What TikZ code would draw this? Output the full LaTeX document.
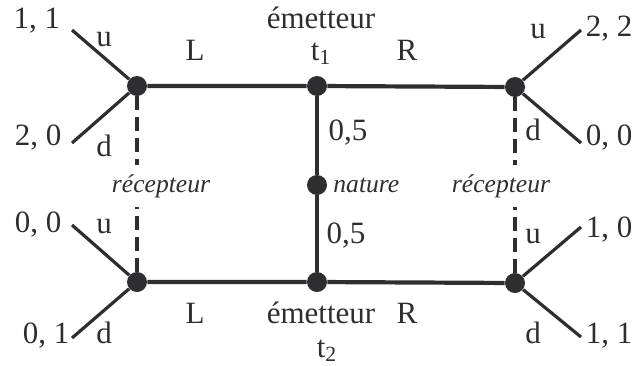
\documentclass[tikz,border=0pt]{standalone}
\usepackage{fontspec}
\setmainfont{Liberation Serif}
\usetikzlibrary{positioning}
\definecolor{GameInk}{HTML}{2E2E30}
\tikzset{
  gamedot/.style={
    circle,
    fill=GameInk,
    inner sep=0pt,
    minimum size=10pt
  },
  gamemove/.style={draw=GameInk,line width=2.1pt},
  gamebranch/.style={draw=GameInk,line width=1.6pt},
  gameinfo/.style={draw=GameInk,line width=1.6pt,dash pattern=on 7pt off 3.5pt},
  gametext/.style={
    text=GameInk,
    anchor=base,
    inner sep=0pt,
    font=\fontsize{15.5}{18}\selectfont
  },
  gameplayer/.style={
    text=GameInk,
    anchor=base,
    inner xsep=0pt,
    inner ysep=4.6pt,
    font=\fontsize{12.8}{15}\selectfont\itshape
  }
}

\begin{document}
\begin{tikzpicture}[x=0.5pt,y=-0.5pt]
  \useasboundingbox (0,0) rectangle (633,365);
  % decision nodes
  \node[gamedot] (recTL) at (137,86) {};
  \node[gamedot] (emT) at (317,86) {};
  \node[gamedot] (recTR) at (515,87) {};
  \node[gamedot] (nat) at (317,185) {};
  \node[gamedot] (recBL) at (137,282) {};
  \node[gamedot] (emB) at (317,282) {};
  \node[gamedot] (recBR) at (515,283) {};
  % ends of the receiver moves
  \coordinate (endTLu) at (72,30);
  \coordinate (endTLd) at (72,143);
  \coordinate (endTRu) at (581,30);
  \coordinate (endTRd) at (581,143);
  \coordinate (endBLu) at (72,225);
  \coordinate (endBLd) at (72,338);
  \coordinate (endBRu) at (581,227);
  \coordinate (endBRd) at (581,337);
  % payoffs
  \node[gametext] (payTLu) at (37,28) {1, 1};
  \node[gametext] (payTLd) at (38,145) {2, 0};
  \node[gametext] (payTRu) at (609,36) {2, 2};
  \node[gametext] (payTRd) at (609,145) {0, 0};
  \node[gametext] (payBLu) at (38,232) {0, 0};
  \node[gametext] (payBLd) at (46,343) {0, 1};
  \node[gametext] (payBRu) at (609,237) {1, 0};
  \node[gametext] (payBRd) at (609,343) {1, 1};
  % move labels
  \node[gametext] (uTL) at (104,46) {u};
  \node[gametext] (dTL) at (104,156) {d};
  \node[gametext] (uTR) at (538,38) {u};
  \node[gametext] (dTR) at (533,140) {d};
  \node[gametext] (uBL) at (104,233) {u};
  \node[gametext] (dBL) at (104,343) {d};
  \node[gametext] (uBR) at (533,243) {u};
  \node[gametext] (dBR) at (533,343) {d};
  \node[gametext] (msgTL) at (195,60) {L};
  \node[gametext] (msgTR) at (407,60) {R};
  \node[gametext] (msgBL) at (195,323) {L};
  \node[gametext] (msgBR) at (407,323) {R};
  \node[gametext] (probT) at (348,140) {0,5};
  \node[gametext] (probB) at (346,243) {0,5};
  % players
  \node[gametext] (nameT) at (321,28) {émetteur};
  \node[gametext] (typeT) at (321,60) {t\textsubscript{1}};
  \node[gametext] (nameB) at (321,323) {émetteur};
  \node[gametext] (typeB) at (327,357) {t\textsubscript{2}};
  \node[gameplayer] (recL) at (161,192) {récepteur};
  \node[gameplayer] (recR) at (501,192) {récepteur};
  \node[gameplayer,anchor=base west] (natName) at (333,192) {nature};
  % sender moves
  \draw[gamemove] (recTL) -- (emT) -- (recTR);
  \draw[gamemove] (recBL) -- (emB) -- (recBR);
  \draw[gamemove] (emT) -- (nat) -- (emB);
  % receiver moves
  \draw[gamebranch] (recTL) -- (endTLu);
  \draw[gamebranch] (recTL) -- (endTLd);
  \draw[gamebranch] (recTR) -- (endTRu);
  \draw[gamebranch] (recTR) -- (endTRd);
  \draw[gamebranch] (recBL) -- (endBLu);
  \draw[gamebranch] (recBL) -- (endBLd);
  \draw[gamebranch] (recBR) -- (endBRu);
  \draw[gamebranch] (recBR) -- (endBRd);
  % information sets
  \draw[gameinfo] (recTL) -- (recTL |- recL.north);
  \draw[gameinfo] (recBL) -- (recBL |- recL.south);
  \draw[gameinfo] (recTR) -- (recTR |- recR.north);
  \draw[gameinfo] (recBR) -- (recBR |- recR.south);
\end{tikzpicture}
\end{document}
